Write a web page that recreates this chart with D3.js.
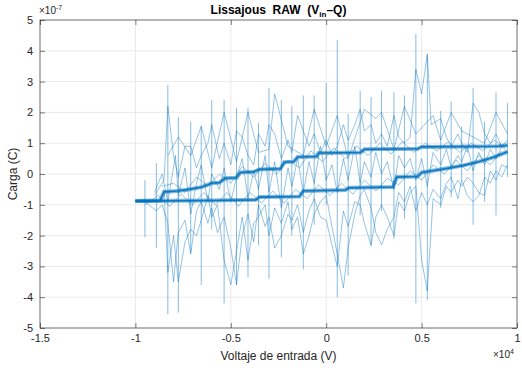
<!DOCTYPE html>
<html>
<head>
<meta charset="utf-8">
<script src="https://cdn.jsdelivr.net/npm/d3@7"></script>
<style>
  body { margin: 0; background: #fff; }
  svg { font-family: "Liberation Sans", Arial, sans-serif; }
</style>
</head>
<body>
<div id="chart"></div>
<script>
// tick values (x in 1e4 V, y in 1e-7 C)
const xTicks = [-1.5, -1, -0.5, 0, 0.5, 1];
const yTicks = [-5, -4, -3, -2, -1, 0, 1, 2, 3, 4, 5];

// dense branches of the loop
const upperBand = [[-1.0,-0.88],[-0.87,-0.86],[-0.85,-0.58],[-0.78,-0.55],[-0.72,-0.5],[-0.65,-0.42],[-0.6,-0.3],[-0.56,-0.28],[-0.53,-0.14],[-0.47,-0.12],[-0.45,0.05],[-0.38,0.07],[-0.35,0.15],[-0.24,0.17],[-0.22,0.38],[-0.17,0.4],[-0.15,0.55],[-0.05,0.57],[-0.04,0.68],[0.18,0.7],[0.2,0.8],[0.48,0.82],[0.5,0.88],[0.9,0.9],[0.95,0.93]];
const lowerBand = [[-1.0,-0.88],[-0.6,-0.86],[-0.37,-0.84],[-0.35,-0.75],[-0.14,-0.73],[-0.12,-0.55],[0.1,-0.52],[0.12,-0.45],[0.35,-0.42],[0.37,-0.1],[0.48,-0.08],[0.5,0.05],[0.55,0.1],[0.65,0.2],[0.72,0.28],[0.8,0.4],[0.88,0.55],[0.95,0.72]];

// vertical jumps: x, top, bottom
const spikeX   = [-0.95,-0.89,-0.83,-0.775,-0.71,-0.655,-0.6,-0.535,-0.47,-0.41,-0.355,-0.3,-0.235,-0.18,-0.12,-0.063,0.0,0.058,0.115,0.178,0.235,0.29,0.355,0.41,0.47,0.53,0.6,0.655,0.71,0.77,0.83,0.89,0.95];
const spikeTop = [-0.2,0.35,2.9,1.85,1.7,1.55,2.4,2.4,2.15,2.15,1.65,2.8,2.4,2.2,2.55,2.55,2.95,4.35,1.95,2.7,2.5,2.7,2.65,2.55,4.55,3.85,2.05,2.35,1.55,2.8,1.7,2.65,2.3];
const spikeBot = [-2.05,-2.4,-4.55,-4.5,-2.55,-3.6,-1.8,-4.2,-3.6,-3.35,-2.3,-3.4,-2.7,-2.0,-3.1,-1.65,-1.0,-4.0,-3.3,-1.35,-2.35,-1.2,-2.1,-1.45,-4.2,-4.1,-1.1,-0.75,-0.2,-1.65,-0.9,-1.35,-0.1];

// noisy excursions of the raw signal
const noiseA = [[-0.9,-0.7],[-0.85,-0.2],[-0.83,2.2],[-0.8,0.6],[-0.775,-0.1],[-0.74,0.9],[-0.71,0.9],[-0.68,0.2],[-0.655,0.6],[-0.62,1.0],[-0.6,1.6],[-0.56,0.5],[-0.535,1.0],[-0.5,0.3],[-0.47,1.4],[-0.44,1.2],[-0.41,0.6],[-0.38,0.3],[-0.355,1.3],[-0.32,0.9],[-0.3,1.6],[-0.27,1.3],[-0.235,0.5],[-0.2,1.1],[-0.18,0.7],[-0.15,1.9],[-0.12,1.4],[-0.09,0.9],[-0.063,1.3],[-0.03,0.7],[0.0,1.1],[0.03,0.6],[0.058,0.9],[0.09,1.6],[0.115,1.1],[0.15,1.6],[0.178,2.1],[0.2,1.4],[0.235,1.6],[0.26,1.0],[0.29,1.3],[0.32,0.9],[0.355,1.9],[0.38,1.2],[0.41,1.0],[0.44,1.2],[0.47,3.4],[0.5,2.6],[0.53,3.9],[0.55,1.6],[0.6,1.8],[0.63,1.2],[0.655,0.9],[0.69,1.3],[0.71,1.0],[0.74,0.7],[0.77,2.3],[0.8,2.0],[0.83,1.3],[0.86,1.0],[0.89,1.3],[0.92,0.9],[0.95,1.1]];
const noiseB = [[-1.0,-0.88],[-0.95,-0.9],[-0.89,-1.2],[-0.86,-1.0],[-0.83,-1.6],[-0.8,-3.5],[-0.775,-1.9],[-0.74,-1.5],[-0.71,-2.6],[-0.68,-1.2],[-0.655,-0.9],[-0.62,-1.6],[-0.6,-1.1],[-0.57,-1.9],[-0.535,-1.4],[-0.5,-2.4],[-0.47,-3.6],[-0.44,-2.0],[-0.41,-1.3],[-0.38,-2.2],[-0.355,-1.0],[-0.32,-1.7],[-0.3,-1.4],[-0.27,-2.4],[-0.235,-2.0],[-0.2,-1.3],[-0.18,-1.5],[-0.15,-1.0],[-0.12,-1.9],[-0.09,-1.2],[-0.063,-0.8],[-0.03,-1.4],[0.0,-1.5],[0.03,-2.3],[0.058,-3.0],[0.09,-1.2],[0.115,-1.7],[0.15,-0.9],[0.178,-1.0],[0.2,-1.6],[0.235,-2.3],[0.26,-1.4],[0.29,-1.0],[0.32,-1.4],[0.355,-2.0],[0.38,-0.9],[0.41,-1.2],[0.44,-0.6],[0.47,-0.4],[0.5,-2.8],[0.53,-3.8],[0.56,-0.8],[0.6,-1.0],[0.63,-0.4],[0.655,-0.6],[0.69,-0.2],[0.71,-0.4],[0.74,-0.1],[0.77,-0.3],[0.8,-0.6],[0.83,-0.7],[0.86,0.1],[0.89,-0.2],[0.92,0.3],[0.95,0.2]];
const noiseC = [[-0.9,-0.6],[-0.86,0.0],[-0.83,-0.9],[-0.79,0.6],[-0.775,-0.7],[-0.74,0.2],[-0.71,-1.3],[-0.68,-0.3],[-0.655,0.3],[-0.62,-0.9],[-0.6,0.0],[-0.56,-0.5],[-0.535,0.2],[-0.5,-0.9],[-0.47,-0.1],[-0.44,0.5],[-0.41,-0.8],[-0.38,0.1],[-0.355,-0.5],[-0.32,0.6],[-0.3,-0.6],[-0.27,0.4],[-0.235,-1.1],[-0.2,0.2],[-0.18,-0.4],[-0.15,0.5],[-0.12,-0.6],[-0.09,0.4],[-0.063,-0.3],[-0.03,0.9],[0.0,-0.2],[0.03,0.3],[0.058,-0.6],[0.09,0.5],[0.115,-0.2],[0.15,0.9],[0.178,-0.3],[0.2,0.4],[0.235,-0.1],[0.26,0.7],[0.29,0.0],[0.32,0.4],[0.355,-0.5],[0.38,0.6],[0.41,0.2],[0.44,0.5],[0.47,-0.2],[0.5,0.5],[0.53,-0.4],[0.56,0.7],[0.6,0.3],[0.63,0.8],[0.655,0.2],[0.69,0.6],[0.71,0.4],[0.74,0.9],[0.77,0.1],[0.8,0.7],[0.83,0.3],[0.86,0.8],[0.89,0.5],[0.92,0.9],[0.95,0.7]];
const noiseD = [[-0.83,0.6],[-0.775,1.2],[-0.71,0.6],[-0.655,1.55],[-0.6,0.2],[-0.535,2.0],[-0.47,0.4],[-0.41,2.0],[-0.355,0.7],[-0.3,0.8],[-0.27,2.6],[-0.2,0.9],[-0.12,0.6],[-0.063,2.1],[0.0,0.9],[0.058,1.9],[0.115,0.5],[0.2,2.1],[0.26,1.8],[0.29,2.0],[0.355,0.8],[0.41,2.2],[0.47,1.3],[0.56,1.9],[0.6,1.1],[0.655,2.0],[0.71,1.4],[0.77,1.2],[0.83,1.0],[0.89,2.0],[0.95,1.3]];
const noiseE = [[-0.85,-0.5],[-0.83,-3.2],[-0.8,-2.0],[-0.775,-3.5],[-0.74,-2.2],[-0.71,-1.8],[-0.68,-2.0],[-0.655,-1.5],[-0.62,-0.7],[-0.6,-1.4],[-0.57,-1.0],[-0.535,-2.8],[-0.5,-3.6],[-0.47,-2.5],[-0.44,-1.4],[-0.41,-2.8],[-0.38,-1.6],[-0.355,-1.4],[-0.32,-1.0],[-0.3,-2.0],[-0.27,-1.1],[-0.235,-1.6],[-0.2,-0.9],[-0.18,-1.8],[-0.15,-1.4],[-0.12,-2.6],[-0.09,-2.0],[-0.063,-1.3],[-0.03,-0.9],[0.0,-0.7],[0.03,-1.7],[0.058,-2.6],[0.09,-3.7],[0.115,-2.4],[0.15,-1.3],[0.178,-0.7],[0.2,-0.5],[0.235,-1.1],[0.26,-1.9],[0.29,-2.3],[0.32,-1.8],[0.355,-1.4],[0.38,-0.6],[0.41,-0.9],[0.44,-0.4],[0.47,-1.2],[0.5,-0.6],[0.53,-1.0],[0.56,-0.5],[0.6,-0.8],[0.63,-0.3],[0.655,-0.1],[0.69,-0.8],[0.71,-0.2],[0.74,-0.7],[0.77,-0.9],[0.8,-0.7],[0.83,-0.1],[0.86,-0.3],[0.89,0.1],[0.92,-0.1],[0.95,0.3]];
const noiseF = [[-0.86,-0.4],[-0.8,-0.3],[-0.74,-0.6],[-0.68,-0.1],[-0.62,-0.4],[-0.56,0.0],[-0.5,-0.3],[-0.44,0.25],[-0.38,-0.1],[-0.32,0.35],[-0.26,0.0],[-0.2,0.45],[-0.14,0.2],[-0.08,0.75],[-0.02,0.4],[0.04,0.85],[0.1,0.5],[0.16,0.9],[0.22,0.6],[0.28,1.0],[0.34,0.65],[0.4,1.05],[0.46,0.7],[0.52,1.0],[0.58,0.75],[0.64,1.05],[0.7,0.7],[0.76,1.0],[0.82,0.75],[0.88,1.1],[0.94,0.85]];
const noiseG = [[-0.95,-1.0],[-0.88,-0.7],[-0.82,-1.05],[-0.76,-0.65],[-0.7,-1.0],[-0.64,-0.6],[-0.58,-1.0],[-0.52,-0.6],[-0.46,-1.05],[-0.4,-0.6],[-0.34,-0.95],[-0.28,-0.55],[-0.22,-0.95],[-0.16,-0.5],[-0.1,-0.8],[-0.04,-0.35],[0.02,-0.7],[0.08,-0.3],[0.14,-0.65],[0.2,-0.2],[0.26,-0.55],[0.32,-0.15],[0.38,-0.35],[0.44,0.1],[0.5,-0.2],[0.56,0.3],[0.62,0.0],[0.68,0.45],[0.74,0.1],[0.8,0.6],[0.86,0.3],[0.92,0.75]];

const W = 522, H = 371;
const margin = { top: 20, right: 5, bottom: 43, left: 40 };
const width = W - margin.left - margin.right;
const height = H - margin.top - margin.bottom;

const svg = d3.select('#chart').append('svg')
    .attr('width', W)
    .attr('height', H);

const g = svg.append('g')
    .attr('transform', `translate(${margin.left},${margin.top})`);

const x = d3.scaleLinear().domain([-1.5, 1]).range([0, width]);
const y = d3.scaleLinear().domain([-5, 5]).range([height, 0]);

// grid
g.append('g').selectAll('line')
    .data(xTicks)
    .enter().append('line')
    .attr('x1', d => x(d)).attr('x2', d => x(d))
    .attr('y1', 0).attr('y2', height)
    .attr('stroke', '#e3e3e3').attr('stroke-width', 0.8);
g.append('g').selectAll('line')
    .data(yTicks)
    .enter().append('line')
    .attr('y1', d => y(d)).attr('y2', d => y(d))
    .attr('x1', 0).attr('x2', width)
    .attr('stroke', '#e3e3e3').attr('stroke-width', 0.8);

// data
const line = d3.line().x(d => x(d[0])).y(d => y(d[1]));
const plot = g.append('g');
const blue = '#0072BD';

[noiseA, noiseB, noiseC, noiseD, noiseE, noiseF, noiseG].forEach(pts => {
    plot.append('path')
        .attr('d', line(pts))
        .attr('fill', 'none')
        .attr('stroke', blue)
        .attr('stroke-width', 0.7)
        .attr('stroke-opacity', 0.6);
});

plot.selectAll('.spike')
    .data(spikeX)
    .enter().append('line')
    .attr('class', 'spike')
    .attr('x1', d => x(d)).attr('x2', d => x(d))
    .attr('y1', (d, i) => y(spikeTop[i]))
    .attr('y2', (d, i) => y(spikeBot[i]))
    .attr('stroke', blue)
    .attr('stroke-width', 0.8)
    .attr('stroke-opacity', 0.6);

// bands: soft wide stroke plus a darker core
[upperBand, lowerBand].forEach(pts => {
    plot.append('path')
        .attr('d', line(pts))
        .attr('fill', 'none')
        .attr('stroke', blue)
        .attr('stroke-width', 4)
        .attr('stroke-opacity', 0.5);
    plot.append('path')
        .attr('d', line(pts))
        .attr('fill', 'none')
        .attr('stroke', blue)
        .attr('stroke-width', 1.6)
        .attr('stroke-opacity', 0.9);
});

// axes
const fmt = d => String(d);
const axisStyle = sel => {
    sel.select('.domain').remove();
    sel.selectAll('.tick line').attr('stroke', '#262626').attr('stroke-width', 0.6);
    sel.selectAll('.tick text').attr('fill', '#262626').style('font-size', '11px');
};

g.append('g')
    .attr('transform', `translate(0,${height})`)
    .call(d3.axisBottom(x).tickValues(xTicks).tickFormat(fmt).tickSizeInner(-5).tickSizeOuter(0).tickPadding(6))
    .call(axisStyle);
g.append('g')
    .call(d3.axisTop(x).tickValues(xTicks).tickFormat('').tickSizeInner(-5).tickSizeOuter(0))
    .call(axisStyle);
g.append('g')
    .call(d3.axisLeft(y).tickValues(yTicks).tickFormat(fmt).tickSizeInner(-5).tickSizeOuter(0).tickPadding(7))
    .call(axisStyle);
g.append('g')
    .attr('transform', `translate(${width},0)`)
    .call(d3.axisRight(y).tickValues(yTicks).tickFormat('').tickSizeInner(-5).tickSizeOuter(0))
    .call(axisStyle);

g.append('rect')
    .attr('width', width).attr('height', height)
    .attr('fill', 'none')
    .attr('stroke', '#262626')
    .attr('stroke-width', 0.6);

// exponent labels
const e1 = svg.append('text').attr('x', 39).attr('y', 14)
    .attr('fill', '#262626').style('font-size', '10px');
e1.append('tspan').text('×10');
e1.append('tspan').attr('dy', -4).style('font-size', '7px').text('-7');

const e2 = svg.append('text').attr('x', 493).attr('y', 358)
    .attr('fill', '#262626').style('font-size', '10px');
e2.append('tspan').text('×10');
e2.append('tspan').attr('dy', -4).style('font-size', '7px').text('4');

// title
const title = svg.append('text')
    .attr('x', margin.left + width / 2).attr('y', 14)
    .attr('text-anchor', 'middle')
    .attr('fill', '#000')
    .style('font-size', '12px')
    .style('font-weight', 'bold')
    .attr('xml:space', 'preserve');
title.append('tspan').text('Lissajous  RAW  (V');
title.append('tspan').attr('dy', 3).style('font-size', '8px').text('in');
title.append('tspan').attr('dy', -3).text('–Q)');

// axis labels
svg.append('text')
    .attr('x', margin.left + width / 2).attr('y', 360)
    .attr('text-anchor', 'middle')
    .attr('fill', '#262626')
    .style('font-size', '12px')
    .text('Voltaje de entrada (V)');

svg.append('text')
    .attr('transform', `rotate(-90)`)
    .attr('x', -(margin.top + height / 2)).attr('y', 17)
    .attr('text-anchor', 'middle')
    .attr('fill', '#262626')
    .style('font-size', '12px')
    .text('Carga (C)');
</script>
</body>
</html>
